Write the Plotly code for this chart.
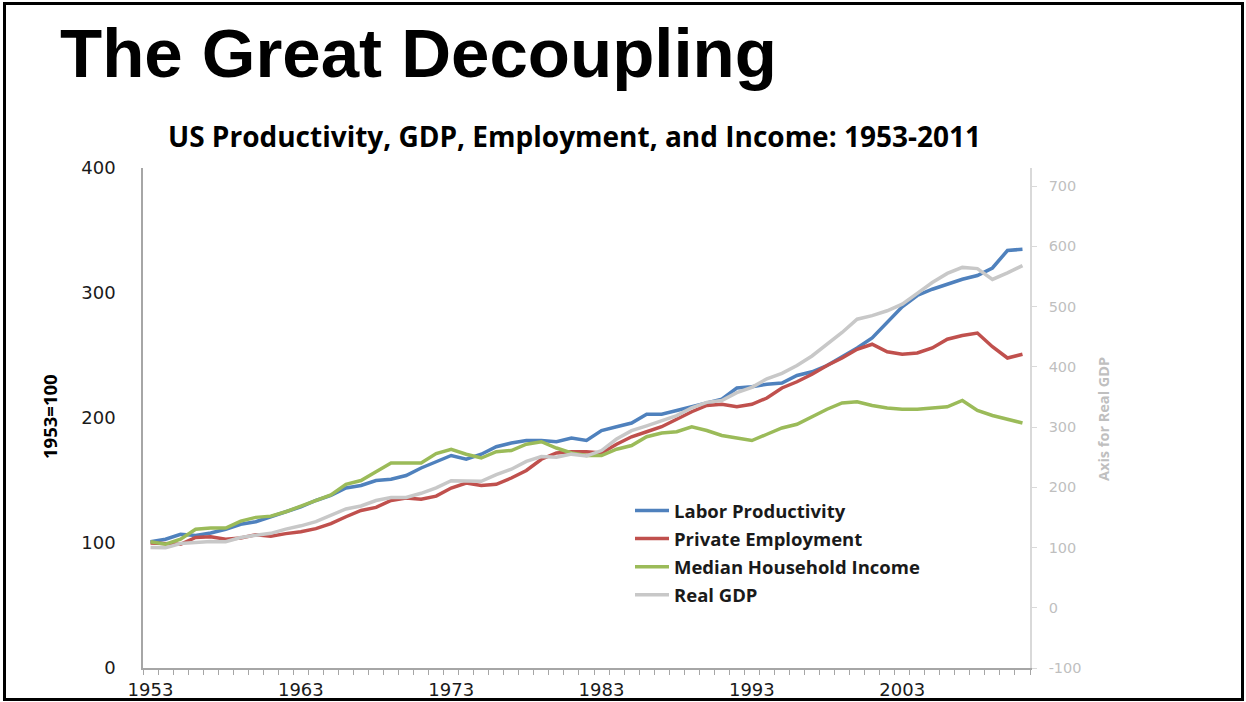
import plotly.graph_objects as go

years = list(range(1953, 2012))

labor_productivity = [101, 103, 107, 106, 108, 111, 115, 117, 121, 125,
                      129, 134, 138, 144, 146, 150, 151, 154, 160, 165,
                      170, 167, 171, 177, 180, 182, 182, 181, 184, 182,
                      190, 193, 196, 203, 203, 206, 209, 212, 215, 224,
                      225, 227, 228, 234, 237, 242, 249, 256, 264, 277,
                      289, 298, 303, 307, 311, 314, 320, 334, 335]

private_employment = [100, 99.5, 99, 104.5, 105, 103, 104, 106.5, 105.5, 107.5,
                      109, 111.5, 115.5, 121, 126, 128.5, 134, 136, 135, 137.5,
                      144, 148, 146, 147, 152, 158, 167, 172, 173, 173,
                      172, 179, 185, 189, 193, 199, 205, 210, 211, 209,
                      211, 216, 224, 229, 235, 242, 248, 255, 259, 253,
                      251, 252, 256, 263, 266, 268, 257, 248, 251]

median_income = [101, 99, 103, 111, 112, 112, 117.5, 120.5, 121.5, 125,
                 129.5, 134, 138.5, 147, 150, 157, 164, 164, 164, 171.5,
                 175, 171, 168, 173, 174, 179, 181, 176, 172, 170,
                 170, 175, 178, 185, 188, 189, 193, 190, 186, 184,
                 182, 187, 192, 195, 201, 207, 212, 213, 210, 208,
                 207, 207, 208, 209, 214, 206, 202, 199, 196]

real_gdp = [100, 99.5, 106.5, 108.5, 110, 109.5, 116.5, 120.5, 123.5, 130.5,
            136, 143, 153, 164, 169, 178, 183, 183, 190, 199,
            211, 211, 210, 221, 230, 243, 251, 250, 255, 252,
            261, 280, 294, 302, 310, 319, 332, 341, 344, 357,
            366, 380, 389, 402, 418, 438, 457, 479, 485, 493,
            504, 522, 540, 555, 565, 563, 545, 556, 568]

x_labels = [1953, 1963, 1973, 1983, 1993, 2003]
left_ticks = [0, 100, 200, 300, 400]
right_ticks = [-100, 0, 100, 200, 300, 400, 500, 600, 700]

series = [
    ("Labor Productivity", labor_productivity, "#4F81BD", "y"),
    ("Private Employment", private_employment, "#C0504D", "y"),
    ("Median Household Income", median_income, "#9BBB59", "y"),
    ("Real GDP", real_gdp, "#C8C8C8", "y2"),
]

fig = go.Figure()
for name, vals, color, ax in series:
    fig.add_trace(go.Scatter(
        x=years, y=vals, name=name, mode="lines", yaxis=ax,
        legendgroup=name,
        line=dict(color=color, width=3.5),
    ))

# target plot area in pixels: x 143..1030, y 168..668
L, R, T, B = 143, 1030, 168, 668
W, H = 1246, 712   # rendered canvas came out 10px shorter than requested
def px(x):
    return (x - L) / (R - L)
def py(y):
    return (B - y) / (B - T)

fig.update_layout(
    width=W, height=H, autosize=False,
    margin=dict(l=L, r=W - R, t=T, b=H - B, pad=0),
    paper_bgcolor="white", plot_bgcolor="white",
    showlegend=True,
    legend=dict(
        x=px(630), y=py(492), xanchor="left", yanchor="top",
        bgcolor="rgba(0,0,0,0)",
        font=dict(family="Open Sans", size=18.5, color="#1A1A1A", weight="bold"),
        tracegroupgap=1, itemwidth=34,
    ),
    xaxis=dict(
        range=[1952.5, 2011.5],
        tickmode="array", tickvals=x_labels, ticktext=[str(v) for v in x_labels],
        ticks="", showline=True, linecolor="#A6A6A6", linewidth=1.5,
        showgrid=False, zeroline=False,
        minor=dict(ticks="outside", tick0=1952.5, dtick=1, ticklen=5,
                   tickcolor="#A6A6A6", tickwidth=1),
        tickfont=dict(family="DejaVu Sans", size=18, color="#1A1A1A"),
        ticklabelstandoff=5,
    ),
    yaxis=dict(
        range=[0, 400], tickmode="array", tickvals=left_ticks,
        ticktext=[str(v) for v in left_ticks],
        ticks="", showline=True, linecolor="#A6A6A6", linewidth=1.5,
        showgrid=False, zeroline=False,
        tickfont=dict(family="DejaVu Sans", size=18, color="#1A1A1A"),
        ticklabelstandoff=22,
    ),
    yaxis2=dict(
        overlaying="y", side="right",
        range=[-100, 730], tickmode="array", tickvals=right_ticks,
        ticktext=[str(v) for v in right_ticks],
        ticks="outside", ticklen=5, tickcolor="#D9D9D9",
        showline=True, linecolor="#D9D9D9", linewidth=1.5,
        showgrid=False, zeroline=False,
        tickfont=dict(family="DejaVu Sans", size=14.5, color="#BFBFBF"),
        ticklabelstandoff=9,
    ),
    annotations=[
        dict(text="The Great Decoupling", xref="paper", yref="paper",
             x=px(58), y=py(53), xanchor="left", yanchor="middle", showarrow=False,
             font=dict(family="Liberation Sans", size=69, color="black", weight="bold")),
        dict(text="US Productivity, GDP, Employment, and Income: 1953-2011",
             xref="paper", yref="paper", x=px(574), y=py(136),
             xanchor="center", yanchor="middle", showarrow=False,
             font=dict(family="Open Sans", size=28, color="black", weight="bold")),
        dict(text="1953=100", xref="paper", yref="paper", x=px(49), y=py(417),
             xanchor="center", yanchor="middle", textangle=-90, showarrow=False,
             font=dict(family="Open Sans", size=18.5, color="black", weight="bold")),
        dict(text="Axis for Real GDP", xref="paper", yref="paper", x=px(1103), y=py(419),
             xanchor="center", yanchor="middle", textangle=-90, showarrow=False,
             font=dict(family="Open Sans", size=14.5, color="#BFBFBF", weight="bold")),
    ],
    shapes=[
        dict(type="rect", xref="paper", yref="paper",
             x0=px(4.5), x1=px(1242.5), y0=py(699.5), y1=py(3.5),
             line=dict(color="black", width=3), layer="above"),
    ],
)

fig.write_html("out.html",
               config={"displayModeBar": False, "responsive": False},
               post_script="document.body.style.margin='0';document.body.style.overflow='hidden';")
